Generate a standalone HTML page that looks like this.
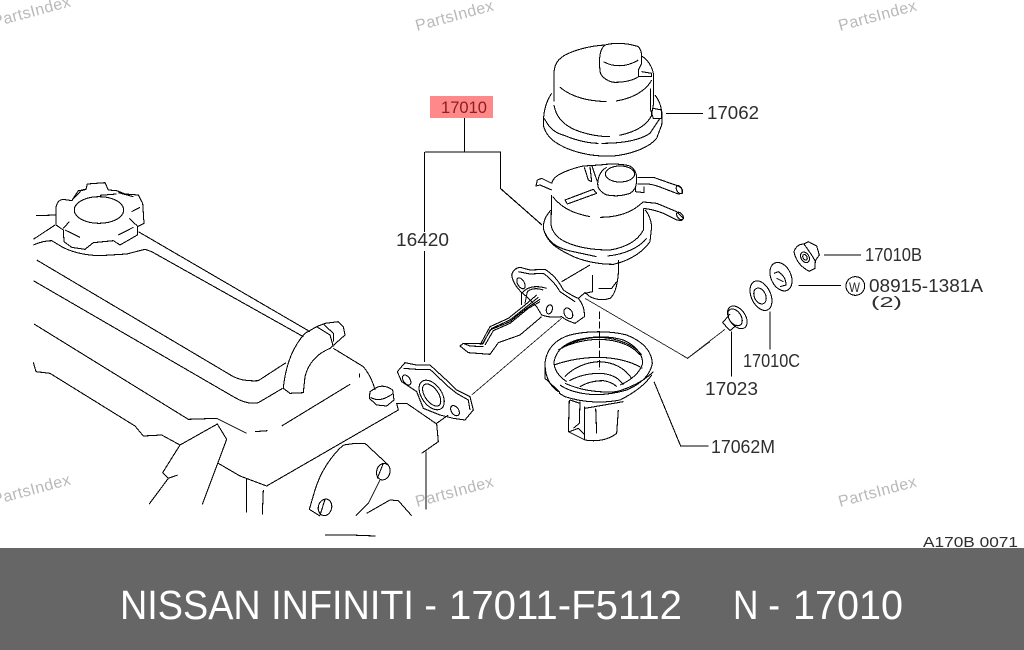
<!DOCTYPE html>
<html><head><meta charset="utf-8"><style>
html,body{margin:0;padding:0;background:#fff;width:1024px;height:650px;overflow:hidden}
svg{display:block}
.l{fill:none;stroke:#000;stroke-width:3.2;stroke-linejoin:round;shape-rendering:crispEdges}
.t{fill:none;stroke:#222;stroke-width:2.6;shape-rendering:crispEdges}
.k{fill:none;stroke:#000;stroke-width:1.2;shape-rendering:crispEdges}
text{font-family:"Liberation Sans",sans-serif}
.n{font-size:18px;fill:#2e2e2e}
.w{font-size:16px;fill:#b9b9b9;letter-spacing:.4px}
</style></head><body>
<svg width="1024" height="650" viewBox="0 0 1024 650" xmlns="http://www.w3.org/2000/svg">
<rect width="1024" height="650" fill="#fff"/>
<text class="w" transform="translate(-6,27) rotate(-15)">PartsIndex</text>
<text class="w" transform="translate(417,31) rotate(-15)">PartsIndex</text>
<text class="w" transform="translate(840,31) rotate(-15)">PartsIndex</text>
<text class="w" transform="translate(-6,505) rotate(-15)">PartsIndex</text>
<text class="w" transform="translate(417,507) rotate(-15)">PartsIndex</text>
<text class="w" transform="translate(840,507) rotate(-15)">PartsIndex</text>

<rect x="430" y="96" width="63" height="22" fill="#ff8888"/>
<path class="k" d="M464.500,118V152M425,152H500.500V188.500L542,225M424.500,152V232M424.500,251V362M666,113.500H703"/>

<!-- engine -->
<g transform="translate(0,170) scale(.33333)">
<path class="l" d="M168,165L168,112Q172,90 190,88L215,92L245,60L258,58L262,42L315,38L325,60L350,62L375,72L415,75L428,100L432,160L412,170L412,195L360,225L340,212L280,218L255,238L215,232L192,215L190,180Z"/>
<ellipse class="l" cx="297" cy="120" rx="74" ry="40"/>
<path class="l" d="M218,88L235,62L255,60M195,180L240,202M190,175L208,155M355,195L400,172M388,145L412,168M395,125L420,112M300,76L350,72M355,68L400,80"/>
<path class="l" d="M108,137L168,135M100,208L165,165M100,225Q130,212 155,212L185,230Q230,255 300,257L380,252L435,238L455,245L910,500M415,185L930,485M110,270L700,620Q730,635 775,632L858,578M100,332L700,680Q740,705 775,698L848,655M102,462L565,748L650,745L740,790M765,785L803,782M100,577L108,605L150,610L405,768L430,798L485,795L540,825L652,762L680,808L607,1003M540,825L488,908L505,925L447,1003M505,925L533,915M655,880L720,918L800,948L1195,720L1190,700L1220,700L1310,762L1315,815L1265,850M1278,845V1018M1310,760L1345,735M845,768L1050,643"/>
<path class="l" d="M915,490Q860,550 850,655L870,670L910,668L915,620Q930,560 990,535L1035,495L1030,470L1015,455L975,460L950,470ZM950,470L990,495L1000,530M970,462L1000,490L1000,515M1000,535L1090,590Q1115,620 1125,660M1078,610V622"/>
<path class="l" d="M1125,655Q1150,640 1178,660L1182,690L1160,708L1130,705L1108,685L1110,665ZM1112,682Q1140,700 1180,670"/>
<path class="l" d="M1192,605L1215,578L1250,585L1290,585L1350,640L1370,660L1410,680L1420,720L1395,750L1360,745L1320,735L1270,715L1250,665L1205,635Z"/>
<path class="l" d="M1210,595L1250,598L1290,598L1345,650L1370,670L1405,690L1410,720"/>
<ellipse class="l" cx="1295" cy="675" rx="30" ry="50" transform="rotate(-35 1295 675)"/>
<ellipse class="l" cx="1295" cy="675" rx="20" ry="38" transform="rotate(-35 1295 675)"/>
<ellipse class="l" cx="1220" cy="630" rx="10" ry="17" transform="rotate(-35 1220 630)"/>
<ellipse class="l" cx="1365" cy="722" rx="11" ry="17" transform="rotate(-35 1365 722)"/>
<path class="l" d="M1030,825L1065,820L1095,820L1165,885M1140,930L1105,1000L1068,1037M1030,825Q970,880 945,960L928,1018L960,1038M1100,1030L1170,990L1195,992L1235,1037M975,1095H1050L1127,1098M740,925V1028M790,960L787,1033"/>
<ellipse class="l" cx="1150" cy="905" rx="20" ry="25" transform="rotate(15 1150 905)"/>
<ellipse class="l" cx="975" cy="1012" rx="20" ry="25" transform="rotate(15 975 1012)"/>
<path class="l" d="M1150,880L1132,925M975,988L960,1036"/>
</g>

<!-- pump upper -->
<g transform="translate(450,30) scale(.33333)">
<path class="l" d="M312,215L312,125C315,95 330,85 345,75C380,58 415,48 465,45C490,38 530,38 565,50C572,58 575,68 575,78C590,88 605,105 610,130L610,225L604,258M465,45C445,60 448,100 450,125C455,145 480,157 495,157C530,157 555,148 565,140M575,70L575,100L565,120M460,95C490,112 530,112 565,90M330,172C370,205 420,213 470,215M498,213C550,205 590,180 605,150M565,120L565,140L605,140L605,130L575,125"/>
<path class="l" d="M305,190C285,220 280,250 280,285C290,330 330,345 350,355C400,375 450,380 490,378C550,372 600,350 620,325L635,285C640,240 630,215 615,195M283,265C300,300 320,310 345,317C380,332 420,340 445,340M455,340C520,340 570,330 600,310L630,265M312,225C320,275 360,295 390,305C420,315 450,320 480,320M508,316C560,305 590,285 604,258M602,175L602,240L610,265L635,265L635,240L610,235"/>
<path class="l" d="M305,460C310,440 330,432 345,425C370,415 390,410 400,408L450,405C480,400 520,402 540,408C555,418 560,430 560,445C560,470 555,480 540,490C510,500 490,498 470,495C450,485 443,475 443,460C445,435 455,420 470,412"/>
<ellipse class="l" cx="510" cy="432" rx="44" ry="24"/>
<path class="l" d="M403,412L415,450L425,455L420,410M425,405L442,455M562,442L610,442C640,452 660,460 685,468L695,475L697,490L685,492L640,475C610,462 590,460 562,462M557,470L557,485L582,488L582,470M580,516L620,520L680,545L700,565L695,572L680,570L640,550C620,542 600,537 580,535M305,480L270,465L258,468L262,450L275,445L305,460M345,510L430,478L440,490L352,522ZM308,500C340,540 380,552 420,560M450,562C510,562 550,545 580,515M305,495L303,585C310,620 340,635 370,645C410,658 450,660 480,660C530,652 565,630 580,600L580,535M303,540C285,560 280,575 280,595C290,640 330,660 360,675C400,695 450,703 490,703C540,692 580,665 600,635L605,590C602,565 595,550 585,540M285,608C300,645 335,658 370,665L440,680M473,678C530,672 570,650 590,625"/>
<ellipse class="l" cx="688" cy="479" rx="8" ry="13" transform="rotate(-30 688 479)"/>
<ellipse class="l" cx="690" cy="558" rx="8" ry="13" transform="rotate(-40 690 558)"/>
</g>

<!-- flange, ring -->
<g transform="translate(450,260) scale(.33333)">
<path class="l" d="M185,45Q190,25 210,22L240,30L285,28Q320,50 340,90Q370,110 385,115Q405,140 403,170L375,190Q345,180 335,170Q305,175 275,165L260,140L230,110Q190,80 185,45ZM205,35L240,42L280,40Q310,60 330,95L375,125"/>
<ellipse class="l" cx="213" cy="70" rx="10" ry="18" transform="rotate(-30 213 70)"/>
<ellipse class="l" cx="298" cy="148" rx="9" ry="14" transform="rotate(15 298 148)"/>
<ellipse class="l" cx="355" cy="160" rx="12" ry="17" transform="rotate(-30 355 160)"/>
<path class="l" d="M215,135L215,100Q240,70 290,85M225,130L232,95Q250,80 280,90M270,118Q220,150 180,185L120,210L100,250L40,250L30,258L55,278L120,283L145,248L210,225L275,170M270,125L235,145L180,190L130,212L105,255M265,112L230,140L180,180L125,205L95,255M260,105L225,135L175,175L120,200L90,255M40,250L60,258L100,260"/>
<path class="l" d="M335,65L420,15M385,115L405,98L420,110Q450,125 480,115Q500,100 505,40L505,0M428,45L428,95L405,100M445,85L485,85L500,65"/>
<path class="t" d="M405,115L713,295L780,245M335,175L65,405"/>
<path class="l" stroke-dasharray="22 7" d="M449,155L449,330"/>
<path class="l" d="M325,395C295,375 285,345 285,310C290,260 325,235 360,225C410,212 480,212 530,225C580,245 605,275 607,310C600,350 565,375 530,390C490,402 450,405 420,403C385,400 350,390 330,375M350,365C320,345 312,325 312,305C320,265 350,250 380,240C430,228 480,228 520,240C560,258 578,285 578,310C570,340 540,362 510,375M345,370C385,388 440,400 500,395C550,380 585,360 610,335M285,320L285,355L328,395L328,400L345,410C400,428 460,430 510,420C550,400 585,375 605,345M325,270C360,248 410,238 450,238C510,240 550,260 570,285M335,265C370,243 410,232 450,232C510,235 555,258 575,285M312,315C360,298 410,292 450,292C500,294 545,305 577,325M345,350C370,322 410,307 445,305C490,305 525,325 545,355M358,362C390,345 425,340 450,340C485,342 508,355 520,375M390,380C415,365 440,362 460,362C480,365 492,372 500,380"/>
<path class="l" d="M358,420L355,515L405,540C440,546 475,540 500,520L505,450M390,425L388,490L370,505M360,420L390,430L388,480M403,440L403,540M437,445L440,520M358,515L385,505L405,525M405,445L520,425M612,365L692,558L775,558"/>
</g>

<!-- small parts -->
<g transform="translate(680,230) scale(.33333)">
<ellipse class="l" cx="172" cy="262" rx="24" ry="38" transform="rotate(-35 172 262)"/>
<ellipse class="l" cx="165" cy="262" rx="18" ry="28" transform="rotate(-35 165 262)"/>
<path class="l" d="M150,252L128,278L150,302L170,285M155,305V440M270,245V358M355,166H483M432,75H543"/>
<path class="t" d="M135,298L22,385L0,372"/>
<ellipse class="l" cx="243" cy="197" rx="29" ry="47" transform="rotate(-25 243 197)"/>
<ellipse class="l" cx="240" cy="198" rx="17" ry="25" transform="rotate(-25 240 198)"/>
<ellipse class="l" cx="303" cy="140" rx="30" ry="45" transform="rotate(-25 303 140)"/>
<path class="l" d="M282,130L295,125Q318,140 318,165L300,170M290,145L310,155"/>
<path class="l" d="M342,65Q350,42 372,42L385,35L410,48L418,75L406,92L405,115L388,124Q350,105 342,65Z"/>
<ellipse class="l" cx="375" cy="82" rx="12" ry="17" transform="rotate(-30 375 82)"/>
<ellipse class="l" cx="375" cy="82" rx="6" ry="9" transform="rotate(-30 375 82)"/>
<path class="l" d="M372,42L395,75L405,92"/>
<circle class="l" cx="526" cy="168" r="28"/>
</g>

<g>
<text class="n" x="441" y="113" textLength="46" lengthAdjust="spacingAndGlyphs" fill="#8a1a1a" style="font-size:17px;fill:#8a2020">17010</text>
<text class="n" x="707" y="119" textLength="52" lengthAdjust="spacingAndGlyphs">17062</text>
<text class="n" x="396" y="246" textLength="53" lengthAdjust="spacingAndGlyphs">16420</text>
<text class="n" x="865" y="261" textLength="57" lengthAdjust="spacingAndGlyphs">17010B</text>
<text class="n" x="869" y="292" textLength="114" lengthAdjust="spacingAndGlyphs">08915-1381A</text>
<text class="n" x="871" y="307" textLength="31" lengthAdjust="spacingAndGlyphs" style="font-size:15px">(2)</text>
<text class="n" x="849" y="292" textLength="11" lengthAdjust="spacingAndGlyphs" style="font-size:14px">W</text>
<text class="n" x="743" y="367" textLength="57" lengthAdjust="spacingAndGlyphs">17010C</text>
<text class="n" x="705" y="395" textLength="53" lengthAdjust="spacingAndGlyphs">17023</text>
<text class="n" x="711" y="453" textLength="64" lengthAdjust="spacingAndGlyphs">17062M</text>
<text class="n" x="923" y="547" textLength="95" lengthAdjust="spacingAndGlyphs" style="font-size:15px">A170B 0071</text>
</g>

<rect x="0" y="548" width="1024" height="102" fill="#666"/>
<g font-size="41" fill="#fff">
<text x="120" y="619" textLength="317" lengthAdjust="spacingAndGlyphs">NISSAN INFINITI -</text>
<text x="449" y="619" textLength="233" lengthAdjust="spacingAndGlyphs">17011-F5112</text>
<text x="733" y="619" textLength="47" lengthAdjust="spacingAndGlyphs">N -</text>
<text x="793" y="619" textLength="110" lengthAdjust="spacingAndGlyphs">17010</text>
</g>
</svg>
</body></html>
